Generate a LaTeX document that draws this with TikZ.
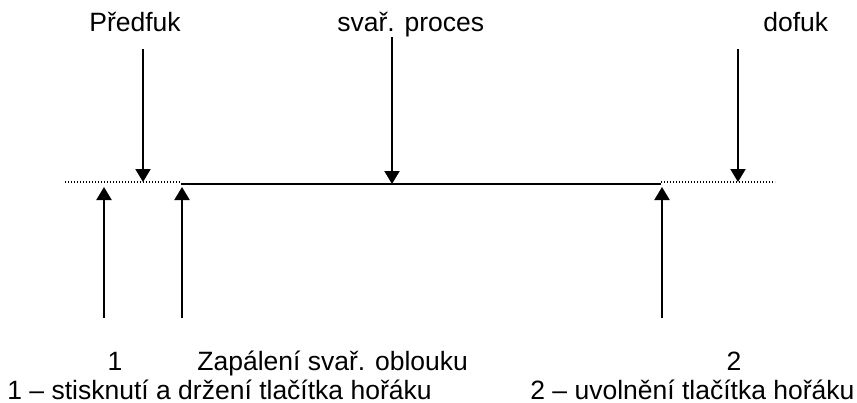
\documentclass[tikz,border=0pt]{standalone}
\usepackage{fontspec}
\setmainfont{Liberation Sans}
\usetikzlibrary{arrows.meta}

\begin{document}
\begin{tikzpicture}[x=0.5pt,y=-0.5pt,
    lbl/.style={inner sep=0pt,font=\fontsize{13.25}{16}\selectfont},
    arr/.style={line width=1pt,-{Triangle[length=6.5pt,width=7.5pt]}},
    tecky/.style={line width=0.9pt,dash pattern=on 0.6pt off 0.9pt}]
  \useasboundingbox (0,0) rectangle (857,402);
  % casova osa: predfuk a dofuk teckovane, svarovani plnou carou
  \coordinate (p0) at (65,182);
  \coordinate (p1) at (181,182);
  \coordinate (s0) at (181,184);
  \coordinate (s1) at (661,184);
  \coordinate (d0) at (661,182);
  \coordinate (d1) at (775,182);
  \draw[tecky] (p0) -- (p1);
  \draw[line width=1pt] (s0) -- (s1);
  \draw[tecky] (d0) -- (d1);
  % popisky nahore
  \node[lbl,anchor=base west] (predfuk) at (89,31) {Předfuk};
  \node[lbl,anchor=base west] (proces) at (337,31) {svař. proces};
  \node[lbl,anchor=base west] (dofuk) at (763,31) {dofuk};
  \coordinate (predfuk-a) at (143,49);
  \coordinate (proces-a) at (392,37);
  \coordinate (dofuk-a) at (738,49);
  \draw[arr] (predfuk-a) -- (143,182);
  \draw[arr] (proces-a) -- (392,184);
  \draw[arr] (dofuk-a) -- (738,182);
  % popisky dole
  \node[lbl,anchor=base] (t1) at (115,370) {1};
  \node[lbl,anchor=base west] (zap) at (197,370) {Zapálení svař. oblouku};
  \node[lbl,anchor=base] (t2) at (734,370) {2};
  \node[lbl,anchor=base west] (leg1) at (7,399) {1 – stisknutí a držení tlačítka hořáku};
  \node[lbl,anchor=base west] (leg2) at (530,399) {2 – uvolnění tlačítka hořáku};
  \coordinate (t1-a) at (104,318);
  \coordinate (zap-a) at (182,318);
  \coordinate (t2-a) at (662,318);
  \draw[arr] (t1-a) -- (104,187);
  \draw[arr] (zap-a) -- (182,187);
  \draw[arr] (t2-a) -- (662,187);
\end{tikzpicture}
\end{document}
